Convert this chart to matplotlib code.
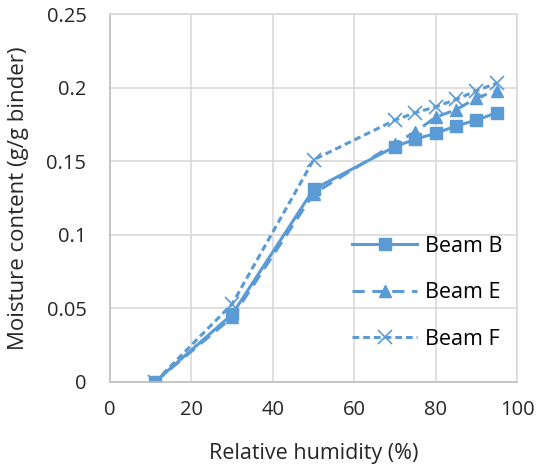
import matplotlib
matplotlib.use("Agg")
import matplotlib.pyplot as plt

# relative humidity (%)
rh = [11, 30, 50, 70, 75, 80, 85, 90, 95]
# moisture content (g/g binder)
beam_b = [0.0, 0.046, 0.131, 0.160, 0.165, 0.169, 0.174, 0.178, 0.183]
beam_e = [0.0, 0.044, 0.128, 0.162, 0.170, 0.180, 0.185, 0.193, 0.198]
beam_f = [0.0, 0.053, 0.151, 0.178, 0.183, 0.187, 0.192, 0.198, 0.203]

x_ticks = [0, 20, 40, 60, 80, 100]
y_ticks = [0, 0.05, 0.1, 0.15, 0.2, 0.25]
y_labels = ["0", "0.05", "0.1", "0.15", "0.2", "0.25"]

plt.rcParams['font.family'] = ['Open Sans', 'DejaVu Sans']
col = '#5B9BD5'
txt = '#262626'

fig = plt.figure(figsize=(5.37, 4.71), dpi=100)
ax = fig.add_axes([0.205, 0.189, 0.758, 0.781])

ax.plot(rh, beam_b, color=col, lw=2.2, marker='s', ms=9, label='Beam B')
ax.plot(rh, beam_e, color=col, lw=2.2, ls=(0, (4, 2.5)), marker='^', ms=9, label='Beam E')
ax.plot(rh, beam_f, color=col, lw=2.2, ls=(0, (2.2, 1.3)), marker='x', ms=10, mew=1.2, label='Beam F')

ax.set_xlim(0, 100)
ax.set_ylim(0, 0.25)
ax.set_xticks(x_ticks)
ax.set_yticks(y_ticks)
ax.set_yticklabels(y_labels)
ax.grid(True, color='#d9d9d9', lw=1.2)
ax.set_axisbelow(True)
for s in ax.spines.values():
    s.set_color('#d9d9d9')
    s.set_linewidth(1.2)
ax.spines['left'].set_color('#bfbfbf')
ax.spines['bottom'].set_color('#bfbfbf')
ax.tick_params(axis='y', length=0, labelsize=14.5, pad=17, colors=txt)
ax.tick_params(axis='x', length=0, labelsize=14.5, pad=13, colors=txt)

ax.set_xlabel('Relative humidity (%)', fontsize=15.5, color=txt)
ax.set_ylabel('Moisture content (g/g binder)', fontsize=16, color=txt)
ax.xaxis.set_label_coords(0.5, -0.165)
ax.yaxis.set_label_coords(-0.2, 0.5)

ax.legend(loc='upper left', bbox_to_anchor=(0.595, 0.397), frameon=False, fontsize=15.5,
          handlelength=3.0, labelspacing=1.18, handletextpad=0.4,
          borderpad=0, borderaxespad=0)

fig.savefig('out.png', dpi=100)
